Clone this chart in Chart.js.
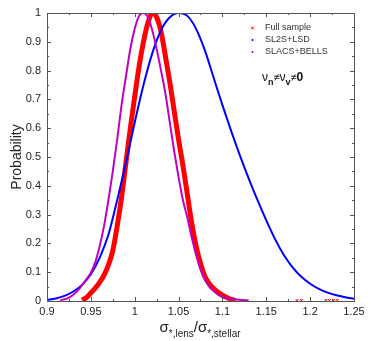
<!DOCTYPE html>
<html><head><meta charset="utf-8">
<script src="https://cdn.jsdelivr.net/npm/chart.js@4/dist/chart.umd.min.js"></script>
<style>html,body{margin:0;padding:0;background:#fff}#wrap{width:374px;height:341px}</style>
</head><body><div id="wrap"><canvas id="c" width="374" height="341"></canvas></div>
<script>
// ---- data ----
const seriesNames = ["Full sample", "SL2S+LSD", "SLACS+BELLS"];
const xTickLabels = ["0.9","0.95","1","1.05","1.1","1.15","1.2","1.25"];
const yTickLabels = ["0","0.1","0.2","0.3","0.4","0.5","0.6","0.7","0.8","0.9","1"];

const blueX = [0.90,0.91,0.92,0.93,0.94,0.95,0.96,0.97,0.98,0.99,1.00,1.01,1.02,1.03,1.04,1.05,1.06,1.07,1.08,1.09,1.10,1.11,1.12,1.13,1.14,1.15,1.16,1.17,1.18,1.19,1.20,1.21,1.22,1.23,1.24,1.25];
const blueY = [0.004,0.009,0.018,0.033,0.056,0.093,0.150,0.230,0.350,0.480,0.620,0.750,0.860,0.940,0.985,1.000,0.990,0.945,0.870,0.775,0.680,0.590,0.505,0.425,0.350,0.280,0.215,0.160,0.117,0.084,0.060,0.042,0.029,0.020,0.013,0.008];

const magX = [0.915,0.92,0.925,0.93,0.935,0.94,0.945,0.95,0.955,0.96,0.965,0.97,0.975,0.98,0.985,0.99,0.995,1.00,1.005,1.01,1.015,1.02,1.025,1.03,1.035,1.04,1.045,1.05,1.055,1.06,1.065,1.07,1.075,1.08,1.085,1.09,1.095,1.10,1.11,1.12,1.13];
const magY = [0.003,0.006,0.012,0.022,0.036,0.055,0.076,0.098,0.134,0.190,0.260,0.350,0.450,0.560,0.680,0.780,0.875,0.945,0.990,1.000,0.985,0.940,0.875,0.800,0.720,0.620,0.520,0.430,0.350,0.290,0.220,0.160,0.110,0.075,0.050,0.035,0.022,0.014,0.007,0.004,0.002];

const redX = [0.94,0.945,0.95,0.955,0.96,0.965,0.97,0.975,0.98,0.985,0.99,0.995,1.00,1.005,1.01,1.015,1.02,1.025,1.03,1.035,1.04,1.045,1.05,1.055,1.06,1.065,1.07,1.075,1.08,1.085,1.09,1.095,1.10,1.105,1.11,1.115];
const redY = [0.003,0.012,0.028,0.045,0.065,0.090,0.125,0.175,0.260,0.360,0.480,0.600,0.710,0.815,0.900,0.965,1.000,0.985,0.935,0.850,0.760,0.660,0.560,0.470,0.370,0.270,0.190,0.130,0.085,0.060,0.043,0.030,0.020,0.012,0.006,0.002];

const redTailX = [1.185,1.19,1.218,1.222,1.227,1.231];
const redTailY = [0.002,0.002,0.002,0.002,0.002,0.002];

const pts = (xs, ys) => xs.map((x, i) => ({x, y: ys[i]}));
const FONT = "'Liberation Sans', Arial, Helvetica, sans-serif";
const fmt = v => String(Number(v.toFixed(3)));

const frame = {
  id: 'frame',
  afterDatasetsDraw(chart) {
    const {ctx, chartArea: a, scales: {x, y}} = chart;
    ctx.save();
    ctx.strokeStyle = '#555'; ctx.lineWidth = 1;
    ctx.strokeRect(Math.round(a.left) + 0.5, Math.round(a.top) + 0.5, Math.round(a.right - a.left), Math.round(a.bottom - a.top));
    ctx.beginPath();
    for (let k = 0; k <= 14; k++) {
      const v = 0.9 + k * 0.025;
      const px = Math.round(x.getPixelForValue(v)) + 0.5;
      const L = (k % 2 === 0) ? 4 : 2;
      ctx.moveTo(px, a.bottom); ctx.lineTo(px, a.bottom - L);
      ctx.moveTo(px, a.top); ctx.lineTo(px, a.top + L);
    }
    for (let k = 0; k <= 20; k++) {
      const v = k * 0.05;
      const py = Math.round(y.getPixelForValue(v)) + 0.5;
      const L = (k % 2 === 0) ? 4 : 2;
      ctx.moveTo(a.left, py); ctx.lineTo(a.left + L, py);
      ctx.moveTo(a.right, py); ctx.lineTo(a.right - L, py);
    }
    ctx.stroke();
    ctx.restore();
  },
  afterDraw(chart) {
    const ctx = chart.ctx;
    ctx.save();
    // y title
    ctx.fillStyle = '#222';
    ctx.font = '14px ' + FONT;
    ctx.textAlign = 'center'; ctx.textBaseline = 'middle';
    ctx.translate(17, 157); ctx.rotate(-Math.PI / 2);
    ctx.fillText('Probability', 0, 0);
    ctx.setTransform(1, 0, 0, 1, 0, 0);
    // x title with subscripts
    const parts = [
      ['σ', '15px ' + FONT, 0], ['*,lens', '10px ' + FONT, 5],
      ['/σ', '15px ' + FONT, 0], ['*,stellar', '10px ' + FONT, 5]
    ];
    ctx.textAlign = 'left'; ctx.textBaseline = 'alphabetic';
    let w = 0;
    parts.forEach(p => { ctx.font = p[1]; w += ctx.measureText(p[0]).width; });
    let cx = 200 - w / 2;
    parts.forEach(p => { ctx.font = p[1]; ctx.fillText(p[0], cx, 332 + p[2]); cx += ctx.measureText(p[0]).width; });
    // legend
    const ly = [28, 40, 52];
    const cols = ['#ff0000', '#0000ff', '#c000c0'];
    ctx.font = '9px ' + FONT; ctx.textBaseline = 'middle';
    seriesNames.forEach((n, i) => {
      ctx.fillStyle = '#333';
      ctx.fillText(n, 265, ly[i]);
      if (i === 0) {
        ctx.strokeStyle = cols[0]; ctx.lineWidth = 1;
        ctx.beginPath();
        ctx.moveTo(251, ly[i] - 1.5); ctx.lineTo(254, ly[i] + 1.5);
        ctx.moveTo(254, ly[i] - 1.5); ctx.lineTo(251, ly[i] + 1.5);
        ctx.stroke();
      } else {
        ctx.fillStyle = cols[i];
        ctx.beginPath(); ctx.arc(252.5, ly[i], 1, 0, Math.PI * 2); ctx.fill();
      }
    });
    // annotation  ν_n ≠ ν_v ≠ 0
    const ann = [
      ['ν', '12px ' + FONT, 0], ['n', 'bold 9px ' + FONT, 4],
      ['≠', '11px ' + FONT, 0], ['ν', '12px ' + FONT, 0],
      ['v', 'bold 9px ' + FONT, 4], ['≠', '11px ' + FONT, 0], ['0', 'bold 12px ' + FONT, 0]
    ];
    ctx.fillStyle = '#111'; ctx.textBaseline = 'alphabetic';
    let ax = 262;
    ann.forEach(p => { ctx.font = p[1]; ctx.fillText(p[0], ax, 81 + p[2]); ax += ctx.measureText(p[0]).width; });
    ctx.restore();
  }
};

new Chart(document.getElementById('c'), {
  type: 'scatter',
  data: {
    datasets: [
      {label: seriesNames[2], data: pts(magX, magY), showLine: true, borderColor: '#c000c0', borderWidth: 2, pointRadius: 0, cubicInterpolationMode: 'monotone', order: 0},
      {label: seriesNames[1], data: pts(blueX, blueY), showLine: true, borderColor: '#0000ff', borderWidth: 2, pointRadius: 0, cubicInterpolationMode: 'monotone', order: 1},
      {label: seriesNames[0], data: pts(redX, redY), showLine: true, borderColor: '#ff0000', borderWidth: 5, pointRadius: 0, cubicInterpolationMode: 'monotone', order: 2},
      {label: 'tail', data: pts(redTailX, redTailY), showLine: false, borderColor: '#ff0000', backgroundColor: '#ff0000', pointStyle: 'crossRot', pointRadius: 2, borderWidth: 1, order: 3}
    ]
  },
  options: {
    responsive: false, animation: false,
    layout: {padding: {left: 0, right: 20, top: 13, bottom: 0}},
    plugins: {legend: {display: false}, tooltip: {enabled: false}},
    scales: {
      x: {
        type: 'linear', min: 0.9, max: 1.25,
        grid: {display: false, drawTicks: false}, border: {display: false},
        ticks: {stepSize: 0.05, color: '#222', font: {family: FONT, size: 11}, padding: 4, maxRotation: 0, autoSkip: false,
          callback: v => fmt(v)},
        afterFit: s => { s.height = 40; }
      },
      y: {
        min: 0, max: 1,
        grid: {display: false, drawTicks: false}, border: {display: false},
        ticks: {stepSize: 0.1, color: '#222', font: {family: FONT, size: 11}, padding: 6,
          callback: v => fmt(v)},
        afterFit: s => { s.width = 47; }
      }
    }
  },
  plugins: [frame]
});
</script></body></html>
